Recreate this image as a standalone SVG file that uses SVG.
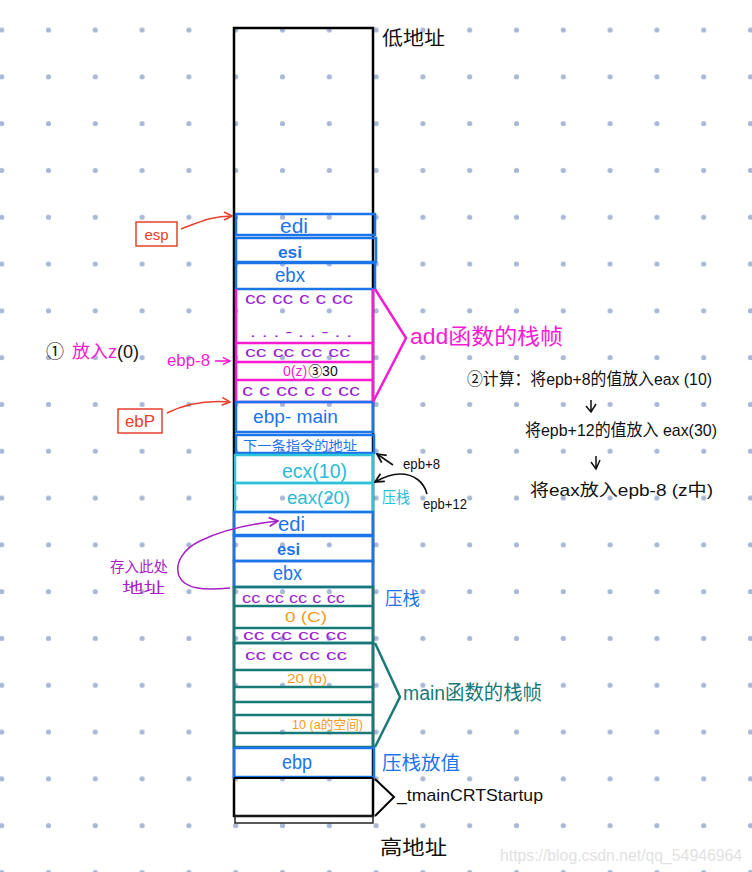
<svg xmlns="http://www.w3.org/2000/svg" width="752" height="872" viewBox="0 0 752 872">
<defs>
<pattern id="dots" patternUnits="userSpaceOnUse" x="-21.7" y="6.6" width="46.8" height="46.8">
<circle cx="23.4" cy="23.4" r="2.6" fill="#a9b8d6"/>
</pattern>
<marker id="arR" viewBox="0 0 10 10" markerWidth="10" markerHeight="10" refX="9" refY="5" orient="auto" markerUnits="userSpaceOnUse"><path d="M1,1 L9,5 L1,9" fill="none" stroke="#e8402c" stroke-width="1.6"/></marker>
<marker id="arK" viewBox="0 0 10 10" markerWidth="11" markerHeight="11" refX="9" refY="5" orient="auto" markerUnits="userSpaceOnUse"><path d="M1,1 L9,5 L1,9" fill="none" stroke="#111" stroke-width="1.6"/></marker>
<marker id="arM" viewBox="0 0 10 10" markerWidth="9" markerHeight="9" refX="9" refY="5" orient="auto" markerUnits="userSpaceOnUse"><path d="M1,1 L9,5 L1,9" fill="none" stroke="#f81bd2" stroke-width="1.6"/></marker>
<marker id="arP" viewBox="0 0 10 10" markerWidth="11" markerHeight="11" refX="9" refY="5" orient="auto" markerUnits="userSpaceOnUse"><path d="M1,1 L9,5 L1,9" fill="none" stroke="#a81fc4" stroke-width="1.6"/></marker>
</defs>
<style>
text{font-family:"Liberation Sans","Noto Sans CJK SC",sans-serif}
.bl{fill:none;stroke:#1c74e9;stroke-width:2.5}
.mg{fill:none;stroke:#f81bd2;stroke-width:2.5}
.cy{fill:none;stroke:#2ec3d9;stroke-width:2.5}
.tl{fill:none;stroke:#177a78;stroke-width:2.5}
.tb{fill:#1c74e9}
.tp{fill:#9a24cf}
.tm{fill:#f81bd2}
.tc{fill:#29bcd6}
.tt{fill:#177a78}
.to{fill:#f59a1e}
.tk{fill:#111}
.tr{fill:#e8402c}
.pu{fill:#a81fc4}
</style>
<rect width="752" height="872" fill="#fff"/>
<rect width="752" height="872" fill="url(#dots)"/>

<g id="stack-outline">
<rect x="234" y="28" width="139" height="788" fill="none" stroke="#000" stroke-width="2.5"/>
<rect x="235" y="816" width="138" height="7" fill="none" stroke="#222" stroke-width="1.5"/>
</g>

<g id="add-edi"><rect class="bl" x="236" y="214" width="139" height="21"/><text class="tb" x="280" y="233" font-size="20" textLength="28" lengthAdjust="spacingAndGlyphs">edi</text></g>
<g id="add-esi"><rect class="bl" x="236" y="238" width="140" height="24"/><text class="tb" x="278" y="258" font-size="16" font-weight="bold" textLength="24" lengthAdjust="spacingAndGlyphs">esi</text></g>
<g id="add-ebx"><rect class="bl" x="236" y="263" width="139" height="26"/><text class="tb" x="275" y="282" font-size="20" textLength="30" lengthAdjust="spacingAndGlyphs">ebx</text></g>

<g id="add-locals">
<line class="mg" x1="236" y1="289" x2="236" y2="343"/>
<line class="mg" x1="373" y1="289" x2="373" y2="343"/>
<rect class="mg" x="236" y="343" width="137" height="59"/>
<line class="mg" x1="236" y1="362" x2="373" y2="362"/>
<line class="mg" x1="236" y1="380" x2="373" y2="380"/>
<text class="tp" x="245" y="304" font-size="16" textLength="108" lengthAdjust="spacingAndGlyphs">cc  cc  c c  cc</text>
<text class="tp" x="250" y="337" font-size="14" textLength="102" lengthAdjust="spacingAndGlyphs">.  .  .  -  .  .   -  .  .</text>
<text class="tp" x="245" y="357" font-size="14" textLength="105" lengthAdjust="spacingAndGlyphs">cc  cc  cc  cc</text>
<text x="283" y="376" font-size="14"><tspan class="tm">0(z)</tspan><tspan class="tk" dx="1">③30</tspan></text>
<text class="tp" x="242" y="396" font-size="16" textLength="118" lengthAdjust="spacingAndGlyphs">c c  cc   c c cc</text>
</g>

<g id="ebp-main"><rect class="bl" x="236" y="402" width="137" height="30"/><text class="tb" x="253" y="423" font-size="19" textLength="85" lengthAdjust="spacingAndGlyphs">ebp- main</text></g>
<g id="ret-addr"><rect class="bl" x="236" y="435" width="138" height="18"/><text class="tb" x="243" y="450" font-size="13" textLength="114" lengthAdjust="spacingAndGlyphs">下一条指令的地址</text></g>

<g id="ecx"><rect class="cy" x="235" y="455" width="138" height="28"/><text class="tc" x="282" y="478" font-size="20" textLength="65" lengthAdjust="spacingAndGlyphs">ecx(10)</text></g>
<g id="eax"><rect class="cy" x="235" y="483" width="138" height="29"/><text class="tc" x="287" y="504" font-size="18" textLength="63" lengthAdjust="spacingAndGlyphs">eax(20)</text></g>

<g id="main-edi"><rect class="bl" x="234" y="512" width="139" height="23"/><text class="tb" x="278" y="531" font-size="20" textLength="27" lengthAdjust="spacingAndGlyphs">edi</text></g>
<g id="main-esi"><rect class="bl" x="234" y="536" width="139" height="25"/><text class="tb" x="277" y="555" font-size="16" font-weight="bold" textLength="23" lengthAdjust="spacingAndGlyphs">esi</text></g>
<g id="main-ebx"><rect class="bl" x="234" y="561" width="139" height="26"/><text class="tb" x="273" y="580" font-size="20" textLength="29" lengthAdjust="spacingAndGlyphs">ebx</text></g>

<g id="main-locals-top">
<rect class="tl" x="234" y="587" width="139" height="56"/>
<line class="tl" x1="234" y1="606" x2="373" y2="606"/>
<line class="tl" x1="234" y1="628" x2="373" y2="628"/>
<text class="tp" x="242" y="603" font-size="15" textLength="103" lengthAdjust="spacingAndGlyphs">cc  cc cc c   cc</text>
<text class="to" x="285" y="622" font-size="15" textLength="42" lengthAdjust="spacingAndGlyphs">0 (C)</text>
<text class="tp" x="243" y="640" font-size="14" textLength="104" lengthAdjust="spacingAndGlyphs">cc  cc  cc    cc</text>
</g>

<g id="main-locals">
<rect class="tl" x="234" y="643" width="139" height="104"/>
<line class="tl" x1="234" y1="670" x2="373" y2="670"/>
<line class="tl" x1="234" y1="687" x2="373" y2="687"/>
<line class="tl" x1="234" y1="702" x2="373" y2="702"/>
<line class="tl" x1="234" y1="715" x2="373" y2="715"/>
<line class="tl" x1="234" y1="733" x2="373" y2="733"/>
<text class="tp" x="245" y="660" font-size="15" textLength="102" lengthAdjust="spacingAndGlyphs">cc  cc  cc    cc</text>
<text class="to" x="287" y="683" font-size="13" textLength="40" lengthAdjust="spacingAndGlyphs">20 (b)</text>
<text class="to" x="292" y="729" font-size="13" textLength="71" lengthAdjust="spacingAndGlyphs">10 (a的空间)</text>
</g>

<g id="main-ebp"><rect class="bl" x="234" y="748" width="140" height="29"/><text class="tb" x="282" y="769" font-size="20" textLength="30" lengthAdjust="spacingAndGlyphs">ebp</text></g>

<g id="startup">
<line x1="234" y1="778" x2="373" y2="778" stroke="#000" stroke-width="2"/>
<text class="tk" x="397" y="801" font-size="17" textLength="146" lengthAdjust="spacingAndGlyphs">_tmainCRTStartup</text>
</g>

<g id="labels">
<text class="tk" x="382" y="45" font-size="19" textLength="63" lengthAdjust="spacingAndGlyphs">低地址</text>
<text class="tk" x="380" y="855" font-size="20" textLength="67" lengthAdjust="spacingAndGlyphs">高地址</text>
<text class="tm" x="410" y="344" font-size="22" textLength="153" lengthAdjust="spacingAndGlyphs">add函数的栈帧</text>
<text class="tt" x="403" y="700" font-size="20" textLength="139" lengthAdjust="spacingAndGlyphs">main函数的栈帧</text>
<text class="tc" x="382" y="503" font-size="16" textLength="28" lengthAdjust="spacingAndGlyphs">压栈</text>
<text class="tb" x="385" y="605" font-size="18" textLength="35" lengthAdjust="spacingAndGlyphs">压栈</text>
<text class="tb" x="382" y="770" font-size="19" textLength="78" lengthAdjust="spacingAndGlyphs">压栈放值</text>
<text class="tk" x="403" y="469" font-size="15" textLength="37" lengthAdjust="spacingAndGlyphs">epb+8</text>
<text class="tk" x="423" y="509" font-size="15" textLength="44" lengthAdjust="spacingAndGlyphs">epb+12</text>
<text class="tk" x="467" y="385" font-size="17" textLength="245" lengthAdjust="spacingAndGlyphs">②计算：将epb+8的值放入eax (10)</text>
<text class="tk" x="525" y="436" font-size="17" textLength="192" lengthAdjust="spacingAndGlyphs">将epb+12的值放入 eax(30)</text>
<text class="tk" x="530" y="496" font-size="17" textLength="183" lengthAdjust="spacingAndGlyphs">将eax放入epb-8 (z中)</text>
<text x="46" y="358" font-size="18"><tspan class="tk">①</tspan><tspan class="tm" dx="8">放入z</tspan><tspan class="tk">(0)</tspan></text>
<text class="tm" x="167" y="366" font-size="17" textLength="43" lengthAdjust="spacingAndGlyphs">ebp-8</text>
<text class="pu" x="110" y="572" font-size="15" textLength="58" lengthAdjust="spacingAndGlyphs">存入此处</text>
<text class="pu" x="122" y="593" font-size="15" textLength="43" lengthAdjust="spacingAndGlyphs">地址</text>
<text x="500" y="861" font-size="16" fill="#e2e2e2" textLength="242" lengthAdjust="spacingAndGlyphs">https://blog.csdn.net/qq_54946964</text>
</g>

<g id="esp-box"><rect x="136" y="222" width="41" height="24" fill="#fff" stroke="#e8402c" stroke-width="1.5"/><text class="tr" x="156.5" y="240" font-size="15" text-anchor="middle">esp</text></g>
<g id="ebp-box"><rect x="118" y="409" width="44" height="24" fill="#fff" stroke="#e8402c" stroke-width="1.5"/><text class="tr" x="140" y="427" font-size="17" text-anchor="middle">ebP</text></g>

<g id="connectors">
<path d="M181,229 C200,222 212,216 232,216" fill="none" stroke="#e8402c" stroke-width="1.6" marker-end="url(#arR)"/>
<path d="M167,413 C185,404 205,400 230,402" fill="none" stroke="#e8402c" stroke-width="1.6" marker-end="url(#arR)"/>
<line x1="215" y1="361" x2="230" y2="361" stroke="#f81bd2" stroke-width="1.6" marker-end="url(#arM)"/>
<path d="M375,289 L406,338 L373,402" fill="none" stroke="#f81bd2" stroke-width="2.5"/>
<path d="M375,643 L400,697 L375,747" fill="none" stroke="#177a78" stroke-width="2.5"/>
<path d="M375,779 L394,797 L375,816" fill="none" stroke="#000" stroke-width="2"/>
<line x1="393" y1="465" x2="377" y2="454" stroke="#111" stroke-width="1.6" marker-end="url(#arK)"/>
<path d="M427,494 C424,482 414,474 400,474 C390,474 382,478 375,482" fill="none" stroke="#111" stroke-width="1.6" marker-end="url(#arK)"/>
<path d="M591,400 L591,412 M586,406 L591,412 L596,404" fill="none" stroke="#111" stroke-width="1.5"/>
<path d="M596,456 L596,469 M591,462 L596,469 L600,460" fill="none" stroke="#111" stroke-width="1.5"/>
<path d="M230,588 C205,590 185,590 179,576 C174,562 185,548 200,541 C222,530 250,524 278,521" fill="none" stroke="#a81fc4" stroke-width="1.5" marker-end="url(#arP)"/>
</g>
</svg>
